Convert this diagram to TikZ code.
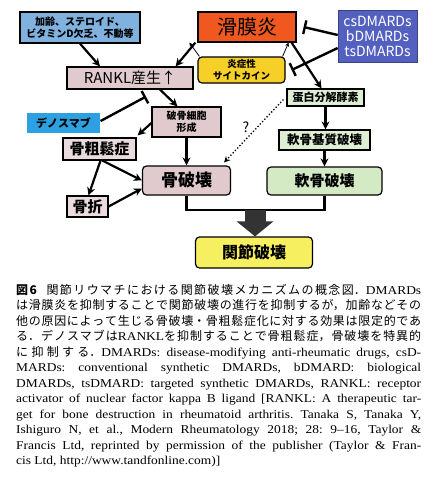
\documentclass[tikz,border=0pt]{standalone}
\usepackage{fontspec}
\setmainfont{Liberation Serif}[FakeStretch=1.12]
\newfontfamily\jp{Noto Sans CJK JP}
\usetikzlibrary{arrows.meta}

\definecolor{agecol}{RGB}{128,178,224}
\definecolor{syncol}{RGB}{240,88,32}
\definecolor{dmcol}{RGB}{84,96,192}
\definecolor{cytocol}{RGB}{246,208,40}
\definecolor{pinkcol}{RGB}{224,202,206}
\definecolor{palecol}{RGB}{234,220,222}
\definecolor{greencol}{RGB}{222,238,212}
\definecolor{cartcol}{RGB}{212,234,196}
\definecolor{denocol}{RGB}{44,160,224}
\definecolor{jointcol}{RGB}{246,240,96}
\newcommand\boxfont[2]{\jp\bfseries\fontsize{#1}{#2}\selectfont}

\begin{document}
\begin{tikzpicture}[
x=1pt,
y=-1pt,
box/.style={rectangle, draw=black, line width=1.2pt, inner sep=0pt, align=center, font=\jp\bfseries},
rbox/.style={box, rounded corners=4pt},
arr/.style={-{Stealth[length=8pt,width=8pt]}, line width=2.2pt},
thinarr/.style={-{Stealth[length=4pt,width=4pt]}, line width=0.8pt},
inhib/.style={-{Bar[width=14pt]}, line width=2.4pt},
bigarr/.style={-{Triangle[length=15pt,width=36pt]}, line width=21pt, black!80},
]
\useasboundingbox (0,0) rectangle (436,480);
\node[box, fill=agecol, minimum width=120pt, minimum height=31pt, font=\boxfont{10}{12.5}] (age) at (80,27.5) {加齢、ステロイド、\\ビタミンD欠乏、不動等};
\node[box, fill=syncol, minimum width=98pt, minimum height=30pt, font=\jp\fontsize{20}{24}\selectfont] (syn) at (247,27) {滑膜炎};
\node[box, draw=dmcol!70!black, line width=0.6pt, fill=dmcol, text=white, minimum width=79pt, minimum height=52pt, font=\jp\fontsize{14}{15}\selectfont] (dmards) at (377.5,36) {csDMARDs\\bDMARDs\\tsDMARDs};
\node[rbox, fill=cytocol, minimum width=87pt, minimum height=26pt, font=\boxfont{9.5}{12}] (cyto) at (241.5,70) {炎症性\\サイトカイン};
\node[box, fill=pinkcol, minimum width=126pt, minimum height=22pt, font=\jp\fontsize{15}{17}\selectfont] (rankl) at (130,78) {RANKL産生↑};
\node[box, fill=greencol, minimum width=77pt, minimum height=17pt, font=\boxfont{11}{13}] (protease) at (325.5,97.5) {蛋白分解酵素};
\node[box, draw=none, fill=denocol, minimum width=73pt, minimum height=20pt, font=\boxfont{11}{13}] (deno) at (63.5,123) {デノスマブ};
\node[box, fill=pinkcol, minimum width=69pt, minimum height=30pt, font=\boxfont{10}{12.5}] (oclast) at (186.5,122) {破骨細胞\\形成};
\node[box, fill=palecol, minimum width=73pt, minimum height=22pt, font=\boxfont{15}{17}] (porosis) at (99.5,149) {骨粗鬆症};
\node[box, fill=greencol, minimum width=91pt, minimum height=20pt, font=\boxfont{12.5}{14}] (cmatrix) at (324.5,140) {軟骨基質破壊};
\node[rbox, fill=pinkcol, minimum width=88pt, minimum height=29pt, font=\boxfont{17}{19}] (bone) at (186.5,180.5) {骨破壊};
\node[rbox, fill=cartcol, minimum width=115pt, minimum height=28pt, font=\boxfont{15}{17}] (cart) at (324.5,181) {軟骨破壊};
\node[box, fill=palecol, minimum width=41pt, minimum height=21pt, font=\boxfont{15}{17}] (fract) at (87.5,206.5) {骨折};
\node[rbox, fill=jointcol, minimum width=117pt, minimum height=31pt, font=\boxfont{16}{18}] (joint) at (254,252.5) {関節破壊};
\node[font=\jp\fontsize{14}{16}\selectfont] (qmark) at (246,127) {?};
\draw[arr] (age.south) -- ([xshift=-30pt]rankl.north);
\draw[arr] ([xshift=-2pt]syn.south west) -- ([xshift=-18pt]rankl.north east);
\draw[thinarr] ([xshift=2pt]cyto.north west) -- ([xshift=-8pt]syn.south west);
\draw[thinarr] ([xshift=-3pt]cyto.north east) -- ([xshift=-8pt]syn.south east);
\draw[arr] ([xshift=-5pt]syn.south east) -- ([xshift=-4pt]protease.north);
\draw[inhib] ([shift={(0,-1)}]dmards.west) -- ([xshift=7pt]syn.east);
\draw[inhib] ([shift={(0,12)}]dmards.west) -- ([xshift=6pt]cyto.east);
\draw[arr] ([xshift=30pt]rankl.south) -- ([xshift=-9pt]oclast.north);
\draw[inhib] ([shift={(0,-2)}]deno.east) -- ([shift={(16,7)}]rankl.south);
\draw[arr] ([shift={(0,1)}]oclast.west) -- ([shift={(1,-2)}]porosis.north east);
\draw[arr] ([xshift=3pt]porosis.south) -- (bone.west);
\draw[arr] ([xshift=1pt]porosis.south) -- ([xshift=1pt]fract.north);
\draw[arr] (fract.east) -- ([shift={(0,8)}]bone.west);
\draw[dotted, line width=1.3pt, -{Stealth[length=6pt,width=6pt]}] ([shift={(-3,2)}]protease.west) -- ([shift={(-7,-3)}]bone.north east);
\foreach \a/\b in {oclast/bone, protease/cmatrix, cmatrix/cart}
 \draw[arr] (\a.south) -- (\a.south |- \b.north);
\coordinate (merge) at (255,210);
\draw[line width=2.4pt] (bone.south) |- (merge) -| (cart.south);
\draw[bigarr] (merge) -- (merge |- joint.north);
\node[anchor=north west, inner sep=0pt, text width=405pt, align=justify, font=\fontsize{12}{15.5}\selectfont] (caption) at (16,284) {\noindent\frenchspacing\XeTeXlinebreaklocale "ja"\XeTeXlinebreakskip=0pt plus 2pt\tolerance=9999\hbadness=10000
{\jp\bfseries 図6}\hspace{0.8em}{\jp 関節リウマチにおける関節破壊メカニズムの概念図．}DMARDs\linebreak
{\jp は滑膜炎を抑制することで関節破壊の進行を抑制するが，加齢などその}\linebreak
{\jp 他の原因によって生じる骨破壊・骨粗鬆症化に対する効果は限定的であ}\linebreak
{\jp る．デノスマブは}RANKL{\jp を抑制することで骨粗鬆症，骨破壊を特異的}\linebreak
{\jp に抑制する．}DMARDs: disease-modifying anti-rheumatic drugs, csD-\linebreak
MARDs: conventional synthetic DMARDs, bDMARD: biological\linebreak
DMARDs, tsDMARD: targeted synthetic DMARDs, RANKL: receptor\linebreak
activator of nuclear factor kappa B ligand [RANKL: A therapeutic tar-\linebreak
get for bone destruction in rheumatoid arthritis. Tanaka S, Tanaka Y,\linebreak
Ishiguro N, et al., Modern Rheumatology 2018; 28: 9--16, Taylor \&\linebreak
Francis Ltd, reprinted by permission of the publisher (Taylor \& Fran-\linebreak
cis Ltd, http://www.tandfonline.com)]};
\end{tikzpicture}
\end{document}
